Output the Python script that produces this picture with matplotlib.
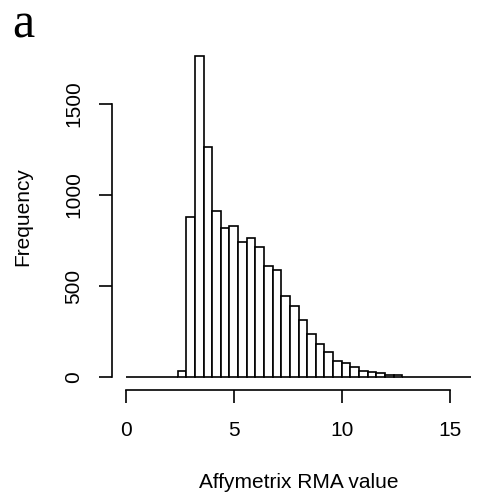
import matplotlib.pyplot as plt
import numpy as np

plt.rcParams['font.family'] = ['Liberation Sans', 'DejaVu Sans']

# histogram breaks 0..16 by 0.4 and counts per bin
bin_edges = np.arange(0, 16.01, 0.4)
counts = [0, 0, 0, 0, 0, 0,
          35, 877, 1767, 1265, 912, 820, 828, 744, 766, 714,
          608, 590, 445, 390, 313, 234, 183, 139, 86, 77,
          57, 33, 27, 24, 13, 9,
          0, 0, 0, 0, 0, 0, 0, 0]
x_ticks = [0, 5, 10, 15]
y_ticks = [0, 500, 1000, 1500]

fig = plt.figure(figsize=(4.91, 4.96), dpi=100)
ax = fig.add_axes([0.228, 0.214, 0.760, 0.700])

#draw the bars
ax.bar(bin_edges[:-1], counts, width=0.4, align='edge',
       facecolor='white', edgecolor='black', linewidth=1.2)

#R style limits with 4% padding
x0, x1 = bin_edges[0], bin_edges[-1]
y1 = max(counts)
ax.set_xlim(x0 - 0.04 * (x1 - x0), x1 + 0.04 * (x1 - x0))
ax.set_ylim(-0.04 * y1, 1.04 * y1)

for s in ['top', 'right']:
    ax.spines[s].set_visible(False)
ax.spines['left'].set_bounds(0, 1500)
ax.spines['bottom'].set_bounds(0, 15)
ax.spines['left'].set_linewidth(1.2)
ax.spines['bottom'].set_linewidth(1.2)

ax.set_xticks(x_ticks)
ax.set_yticks(y_ticks)
ax.set_yticklabels([str(v) for v in y_ticks], rotation=90, va='center')
ax.tick_params(axis='both', length=9.5, width=1.2, labelsize=15)
ax.tick_params(axis='x', pad=13)
ax.tick_params(axis='y', pad=11)

ax.set_xlabel('Affymetrix RMA value', fontsize=15, labelpad=23.5)
ax.set_ylabel('Frequency', fontsize=15, labelpad=23)

#panel letter
fig.text(0.025, 0.995, 'a', fontsize=36, family='Liberation Serif', va='top', ha='left')

fig.savefig('out.png', dpi=100)
